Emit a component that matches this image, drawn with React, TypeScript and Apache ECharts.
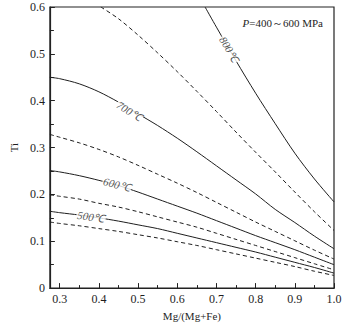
import React, { useEffect, useRef } from 'react';
import * as echarts from 'echarts';

// Mg/(Mg+Fe) sample points
const mgFull = [0.275, 0.3, 0.35, 0.4, 0.45, 0.5, 0.55, 0.6, 0.65, 0.7, 0.75, 0.8, 0.85, 0.9, 0.95, 1.0];
const mg750 = [0.405, 0.45, 0.5, 0.55, 0.6, 0.65, 0.7, 0.75, 0.8, 0.85, 0.9, 0.95, 1.0];
const mg800 = [0.671, 0.7, 0.75, 0.8, 0.85, 0.9, 0.95, 1.0];

// Ti isotherms (solid) and intermediate (dashed)
const ti450 = [0.141, 0.138, 0.133, 0.127, 0.121, 0.114, 0.107, 0.099, 0.091, 0.082, 0.073, 0.064, 0.055, 0.046, 0.036, 0.027];
const ti500 = [0.164, 0.161, 0.156, 0.150, 0.143, 0.135, 0.127, 0.117, 0.107, 0.097, 0.087, 0.077, 0.066, 0.055, 0.044, 0.032];
const ti550 = [0.199, 0.196, 0.190, 0.181, 0.173, 0.163, 0.152, 0.141, 0.130, 0.117, 0.104, 0.091, 0.078, 0.065, 0.052, 0.039];
const ti600 = [0.251, 0.248, 0.240, 0.230, 0.219, 0.205, 0.190, 0.175, 0.160, 0.144, 0.128, 0.112, 0.097, 0.082, 0.066, 0.050];
const ti650 = [0.328, 0.322, 0.310, 0.296, 0.280, 0.262, 0.243, 0.224, 0.204, 0.183, 0.162, 0.141, 0.121, 0.101, 0.081, 0.062];
const ti700 = [0.450, 0.447, 0.436, 0.419, 0.397, 0.372, 0.347, 0.320, 0.291, 0.261, 0.231, 0.201, 0.168, 0.140, 0.111, 0.084];
const ti750 = [0.600, 0.575, 0.540, 0.502, 0.462, 0.420, 0.377, 0.333, 0.290, 0.248, 0.205, 0.163, 0.123];
const ti800 = [0.600, 0.557, 0.485, 0.416, 0.351, 0.288, 0.233, 0.184];

// Isotherm labels
const labelText = ['800℃', '700℃', '600℃', '500℃'];
const labelMg = [0.733, 0.478, 0.446, 0.38];
const labelTi = [0.51, 0.378, 0.221, 0.152];

// Axis ticks
const xMajor = [0.3, 0.4, 0.5, 0.6, 0.7, 0.8, 0.9, 1.0];
const xMinor = [0.35, 0.45, 0.55, 0.65, 0.75, 0.85, 0.95];

const FONT = '"Liberation Serif", "Times New Roman", serif';
const INK = '#1e1e1e';

const pair = (xs: number[], ys: number[]) => xs.map((x, i) => [x, ys[i]]);

export default function App() {
  const ref = useRef<HTMLDivElement>(null);
  useEffect(() => {
    if (!ref.current) return;
    const chart = echarts.init(ref.current, null, { renderer: 'svg' });
    const lineSeries = (name: string, xs: number[], ys: number[], dashed: boolean) => ({
      name,
      type: 'line',
      data: pair(xs, ys),
      smooth: 0.3,
      symbol: 'none',
      silent: true,
      lineStyle: { color: INK, width: 1, type: dashed ? [4, 3] : 'solid' },
      z: 2,
    });
    const angles = [-59, -32, -15, -9];
    chart.setOption({
      animation: false,
      backgroundColor: '#fff',
      grid: { left: 36, right: 11, top: 7, bottom: 32, containLabel: false, show: true, borderColor: '#222', borderWidth: 1.2, backgroundColor: 'transparent' },
      xAxis: [
        {
          type: 'value', min: 0.275, max: 1.0, position: 'bottom',
          axisLine: { show: true, onZero: false, lineStyle: { color: '#222', width: 1.2 } },
          axisTick: { show: true, inside: true, length: 5, customValues: xMajor, lineStyle: { color: '#222' } },
          axisLabel: { customValues: xMajor, formatter: (v: number) => v.toFixed(1), margin: 5, color: INK, fontFamily: FONT, fontSize: 12, showMinLabel: true, showMaxLabel: true },
          splitLine: { show: false },
          name: 'Mg/(Mg+Fe)', nameLocation: 'middle', nameGap: 19,
          nameTextStyle: { color: INK, fontFamily: FONT, fontSize: 11 },
        },
        {
          type: 'value', min: 0.275, max: 1.0, position: 'bottom',
          axisLine: { show: false, onZero: false },
          axisTick: { show: true, inside: true, length: 3, customValues: xMinor, lineStyle: { color: '#222' } },
          axisLabel: { show: false },
          splitLine: { show: false },
        },
      ],
      yAxis: {
        type: 'value', min: 0, max: 0.6, interval: 0.1,
        axisLine: { show: true, onZero: false, lineStyle: { color: '#222', width: 1.2 } },
        axisTick: { show: true, inside: true, length: 5, lineStyle: { color: '#222' } },
        minorTick: { show: true, splitNumber: 2, length: 4, lineStyle: { color: '#222' } },
        axisLabel: { formatter: (v: number) => (v === 0 ? '0' : v.toFixed(1)), margin: 5, color: INK, fontFamily: FONT, fontSize: 12 },
        splitLine: { show: false },
        name: 'Ti', nameLocation: 'middle', nameGap: 22, nameRotate: 90,
        nameTextStyle: { color: INK, fontFamily: FONT, fontSize: 11 },
      },
      series: [
        lineSeries('450', mgFull, ti450, true),
        lineSeries('500', mgFull, ti500, false),
        lineSeries('550', mgFull, ti550, true),
        lineSeries('600', mgFull, ti600, false),
        lineSeries('650', mgFull, ti650, true),
        lineSeries('700', mgFull, ti700, false),
        lineSeries('750', mg750, ti750, true),
        lineSeries('800', mg800, ti800, false),
        {
          type: 'scatter',
          silent: true,
          symbolSize: 1,
          itemStyle: { color: 'rgba(0,0,0,0)' },
          z: 5,
          data: labelText.map((t, i) => ({
            value: [labelMg[i], labelTi[i]],
            name: t,
            label: { rotate: angles[i] },
          })),
          label: {
            show: true, position: 'inside', formatter: (p: any) => p.name,
            color: INK, fontFamily: FONT, fontSize: 11, fontStyle: 'italic',
            backgroundColor: '#fff', padding: [0, 1],
          },
        },
      ],
      graphic: [
        {
          type: 'text', right: 22, top: 17,
          style: {
            text: '{i|P}=400～600 MPa',
            rich: { i: { fontStyle: 'italic', fontFamily: FONT, fontSize: 11, fill: INK } },
            fontFamily: FONT, fontSize: 11, fill: INK,
          },
        },
      ],
    });
    return () => chart.dispose();
  }, []);
  return <div ref={ref} style={{ position: 'fixed', left: 0, top: 0, width: 345, height: 326, background: '#fff' }} />;
}
